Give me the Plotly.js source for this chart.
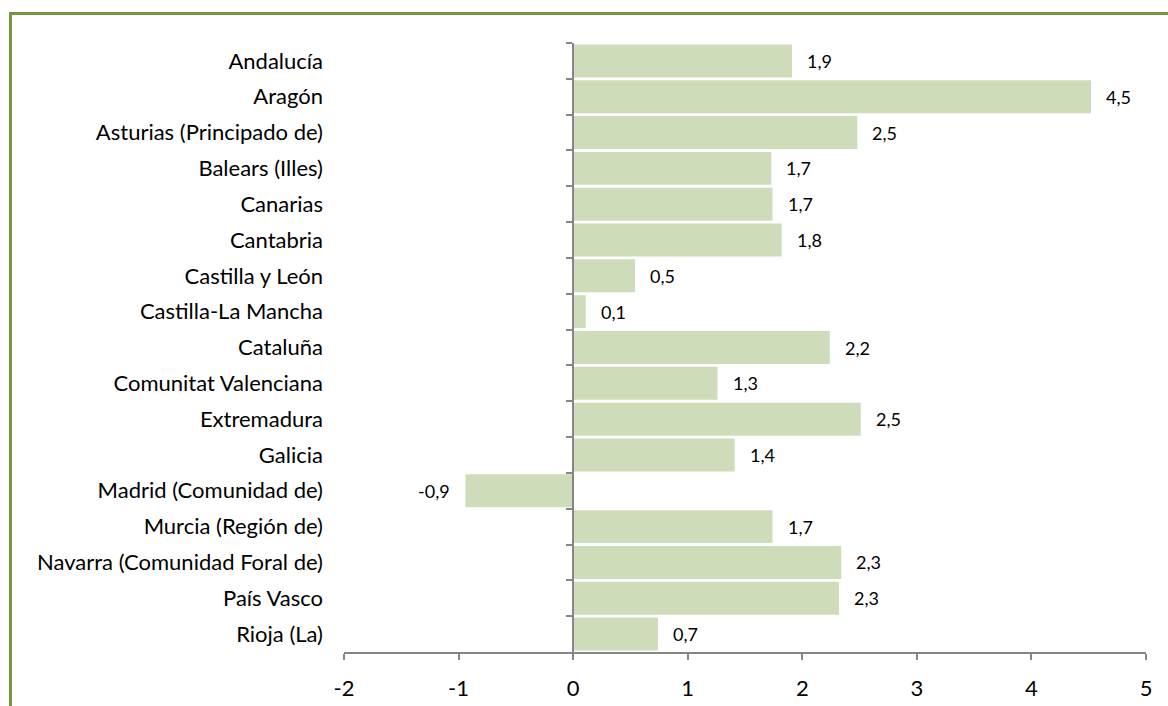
<!DOCTYPE html>
<html>
<head>
<meta charset="utf-8">
<script src="https://cdn.plot.ly/plotly-3.0.1.min.js"></script>
<style>
html,body{margin:0;padding:0;background:#fff;}
#chart{width:1168px;height:706px;}
</style>
</head>
<body>
<div id="chart"></div>
<script>
const regions = [
  "Andalucía","Aragón","Asturias (Principado de)","Balears (Illes)","Canarias",
  "Cantabria","Castilla y León","Castilla-La Mancha","Cataluña","Comunitat Valenciana",
  "Extremadura","Galicia","Madrid (Comunidad de)","Murcia (Región de)",
  "Navarra (Comunidad Foral de)","País Vasco","Rioja (La)"
];
const values = [1.91, 4.52, 2.48, 1.73, 1.74, 1.82, 0.54, 0.11, 2.24, 1.26, 2.51, 1.41, -0.94, 1.74, 2.34, 2.32, 0.74];
const xTicks = [-2, -1, 0, 1, 2, 3, 4, 5];

const FONT = "Lato, 'Open Sans', sans-serif";
const axisGray = "#868686";
const barColor = "#cfdcb9";

function fmt(v){ return v.toFixed(1).replace(".", ","); }

const bars = {
  type: "bar", orientation: "h",
  x: values, y: regions,
  marker: {color: barColor, line: {width: 0}},
  hoverinfo: "x+y",
  showlegend: false
};
const ghost = {
  type: "bar", orientation: "h",
  x: values.map(() => 0), y: regions,
  yaxis: "y2",
  marker: {color: "rgba(0,0,0,0)"},
  hoverinfo: "skip", showlegend: false
};

const annotations = values.map((v, i) => ({
  x: v, y: regions[i], xref: "x", yref: "y",
  text: fmt(v), showarrow: false,
  xanchor: v >= 0 ? "left" : "right",
  xshift: v >= 0 ? 13 : -13,
  yshift: 0,
  font: {family: FONT, size: 18, color: "#000"}
}));

const layout = {
  width: 1168, height: 706,
  margin: {l: 344, r: 22, t: 43, b: 54},
  paper_bgcolor: "#fff", plot_bgcolor: "#fff",
  bargap: 0.08,
  font: {family: FONT, size: 22, color: "#000"},
  xaxis: {
    range: [-2, 5], tickvals: xTicks, ticktext: xTicks.map(String),
    showgrid: false, zeroline: false,
    showline: true, linecolor: axisGray, linewidth: 2,
    ticks: "outside", ticklen: 6, tickwidth: 2, tickcolor: axisGray,
    ticklabelstandoff: 10,
    tickfont: {family: FONT, size: 22, color: "#000"},
    fixedrange: true
  },
  yaxis: {
    type: "category", categoryorder: "array", categoryarray: regions,
    autorange: "reversed",
    showgrid: false, zeroline: false, showline: false,
    ticks: "", ticklabelstandoff: 20,
    tickfont: {family: FONT, size: 22, color: "#000"},
    fixedrange: true
  },
  yaxis2: {
    type: "category", categoryorder: "array", categoryarray: regions,
    autorange: "reversed",
    overlaying: "y", anchor: "free", position: 2/7, side: "left",
    showgrid: false, zeroline: false,
    showline: true, linecolor: axisGray, linewidth: 2,
    ticks: "outside", tickson: "boundaries", ticklen: 6, tickwidth: 2, tickcolor: axisGray,
    showticklabels: false, fixedrange: true
  },
  shapes: [{
    type: "rect", xref: "paper", yref: "paper",
    x0: (10.5 - 344) / 802, x1: 1.2,
    y0: -0.3, y1: (652 - 13.5) / 609,
    line: {color: "#77933c", width: 3}, fillcolor: "rgba(0,0,0,0)"
  }],
  annotations: annotations
};

Plotly.newPlot("chart", [bars, ghost], layout, {displayModeBar: false, staticPlot: true});
</script>
</body>
</html>
